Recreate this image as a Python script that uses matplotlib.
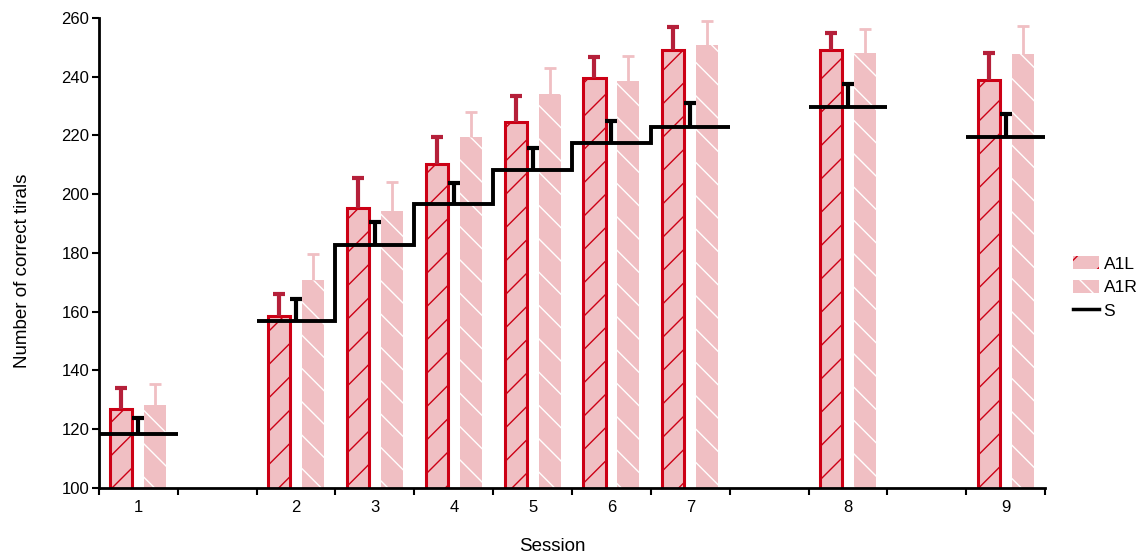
import numpy as np
import matplotlib
matplotlib.use("Agg")
import matplotlib.pyplot as plt
from matplotlib.patches import Patch
from matplotlib.lines import Line2D

plt.rcParams['font.family'] = ['Liberation Sans', 'DejaVu Sans']
plt.rcParams['hatch.linewidth'] = 1.0

# Datos
sessions = ['1', '2', '3', '4', '5', '6', '7', '8', '9']
session_pos = [1, 3, 4, 5, 6, 7, 8, 10, 12]

a1l = [126.9, 158.6, 195.3, 210.3, 224.6, 239.6, 249.1, 249.1, 238.9]
a1l_err = [7.2, 7.4, 10.2, 9.2, 8.8, 7.1, 7.8, 5.8, 9.2]
a1r = [128.3, 170.8, 194.3, 219.5, 234.1, 238.6, 250.8, 248.1, 247.7]
a1r_err = [7.1, 8.9, 9.9, 8.5, 8.9, 8.4, 8.2, 8.2, 9.6]
s_mean = [118.4, 156.9, 182.7, 196.7, 208.3, 217.4, 222.9, 229.7, 219.5]
s_err = [5.4, 7.4, 7.9, 7.1, 7.4, 7.5, 8.1, 7.8, 7.8]

pink = '#f0bfc3'
red = '#cc0015'
dark_red = '#b5203a'

fig = plt.figure(figsize=(11.43, 5.57), dpi=100)
ax = fig.add_axes([0.0866, 0.1239, 0.8277, 0.8438])

pos = np.array(session_pos, dtype=float)
w = 0.28
off = 0.215


def up_err(x, y, e, color, lw, cap_w, z):
    # barra de error solo hacia arriba, con tope
    y = np.array(y)
    top = y + np.array(e)
    ax.vlines(x, y, top, colors=color, linewidth=lw, zorder=z)
    ax.plot(x, top, linestyle='none', marker='_', markersize=cap_w,
            markeredgewidth=lw, color=color, zorder=z)


ax.bar(pos - off, a1l, w, facecolor=pink, edgecolor=red,
       linewidth=2.2, hatch='/', zorder=2)
up_err(pos - off, a1l, a1l_err, dark_red, 3, 8, 3)

ax.bar(pos + off, a1r, w, facecolor=pink, edgecolor='white',
       linewidth=0, hatch='\\', zorder=2)
up_err(pos + off, a1r, a1r_err, pink, 2, 8, 3)

# Línea escalonada S (grupos contiguos)
groups = [[0], [1, 2, 3, 4, 5, 6], [7], [8]]
for g in groups:
    vals = [s_mean[i] for i in g]
    edges = [pos[g[0]] - 0.5] + [pos[i] + 0.5 for i in g]
    ax.stairs(vals, edges, baseline=None, color='black', linewidth=2.8, zorder=4)
up_err(pos, s_mean, s_err, 'black', 3, 8, 4)

ax.set_xlim(0.5, 12.5)
ax.set_ylim(100, 260)
ax.set_yticks(np.arange(100, 261, 20))
ax.set_xticks(pos)
ax.set_xticklabels(sessions)
ax.set_xticks(np.arange(0.5, 12.6, 1), minor=True)
ax.tick_params(axis='x', which='major', length=0, pad=9, labelsize=12)
ax.tick_params(axis='x', which='minor', length=5, width=1.5, direction='out')
ax.tick_params(axis='y', length=5, width=1.5, labelsize=12, pad=2)

for sp in ['top', 'right']:
    ax.spines[sp].set_visible(False)
for sp in ['left', 'bottom']:
    ax.spines[sp].set_linewidth(2)

ax.set_xlabel("Session", fontsize=13.5, labelpad=16)
ax.set_ylabel("Number of correct tirals", fontsize=13.5, labelpad=22)
ax.xaxis.label.set_x(0.479)
ax.yaxis.label.set_y(0.462)

handles = [Patch(facecolor=pink, edgecolor=red, linewidth=0, hatch='/'),
           Patch(facecolor=pink, edgecolor='white', linewidth=0, hatch='\\'),
           Line2D([0], [0], color='black', linewidth=2.5)]
fig.legend(handles, ['A1L', 'A1R', 'S'], loc='center left',
           bbox_to_anchor=(0.939, 0.484), frameon=False, fontsize=12.5,
           handlelength=1.5, handleheight=0.8, handletextpad=0.25, labelspacing=0.45,
           borderpad=0, borderaxespad=0)

fig.savefig("out.png", dpi=100)
